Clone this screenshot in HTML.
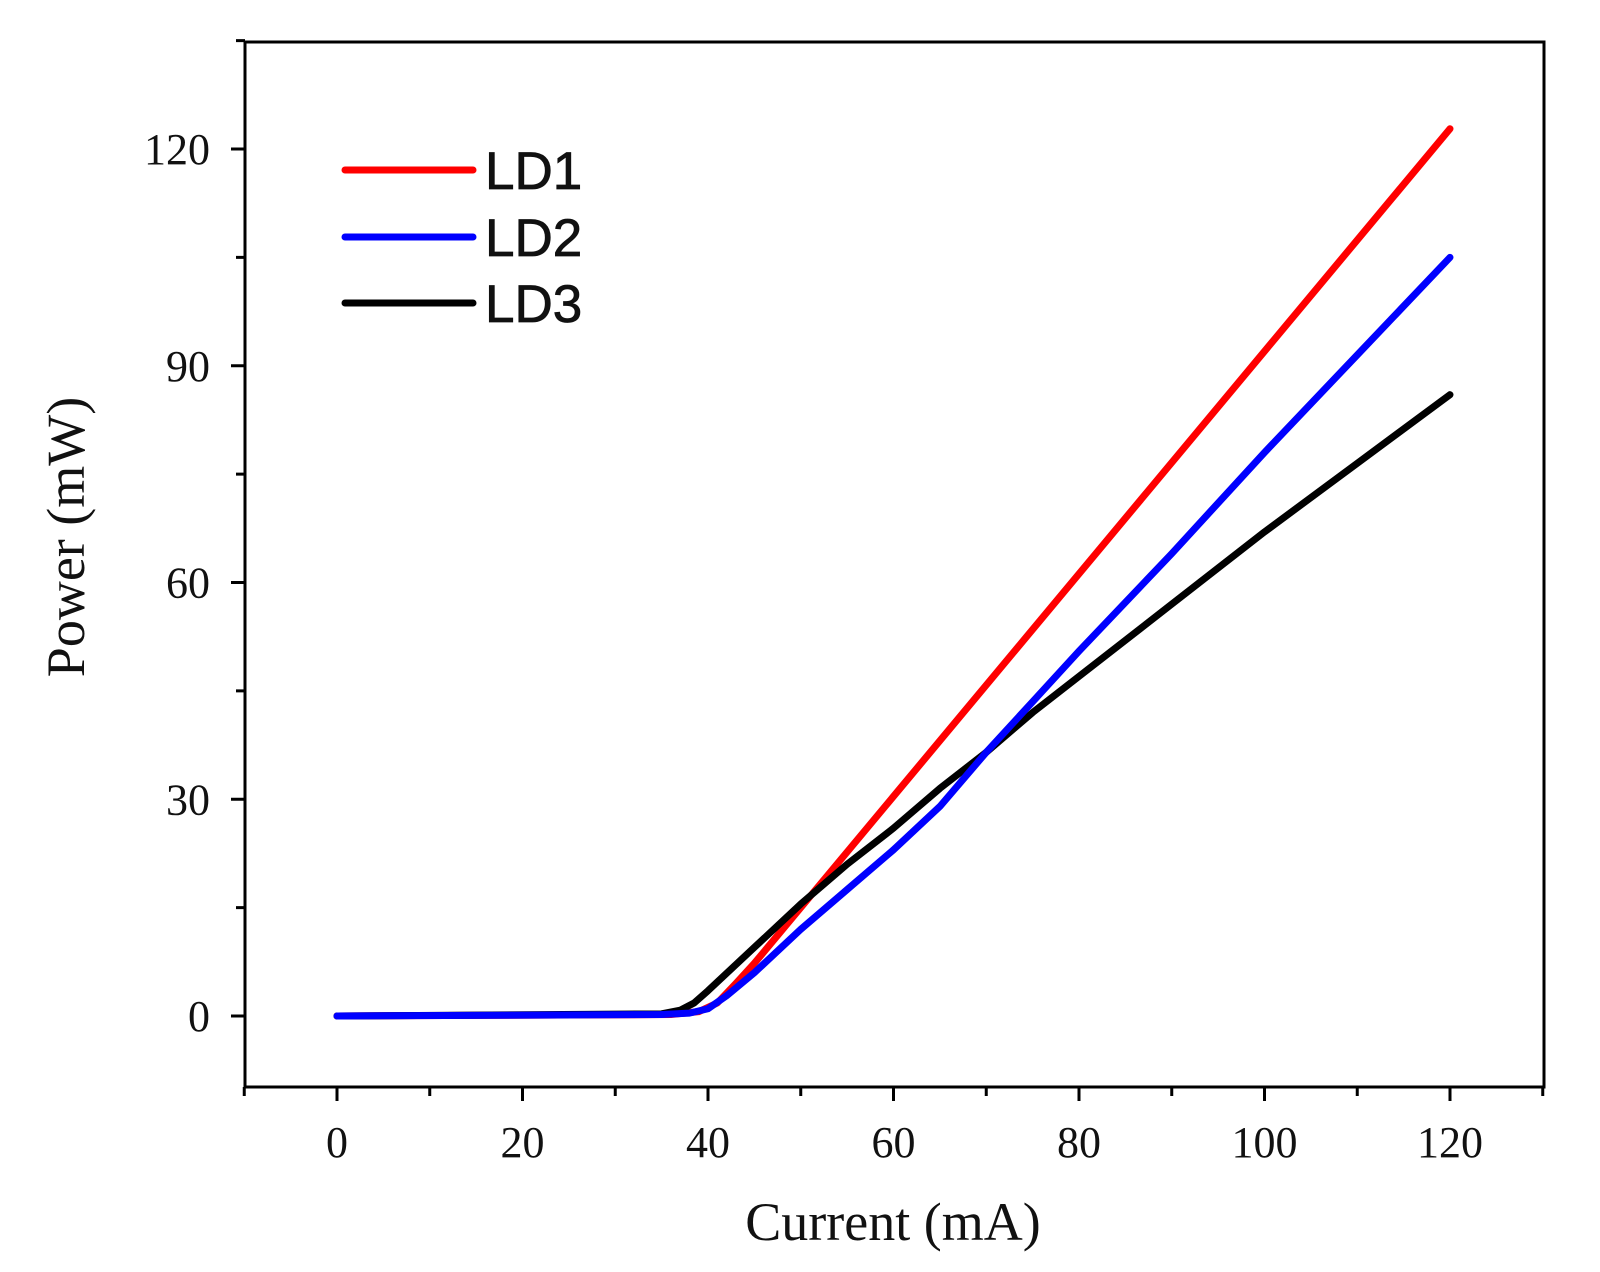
<!DOCTYPE html>
<html><head><meta charset="utf-8"><style>body{margin:0;background:#fff}svg{display:block}</style></head>
<body>
<svg id="s" width="1600" height="1272" xmlns="http://www.w3.org/2000/svg">
<rect width="1600" height="1272" fill="#fff"/>
<g id="ax" stroke="#000" stroke-width="3" fill="none">
<rect x="245" y="42" width="1299" height="1045"/>
</g>
<g id="tk" stroke="#000" stroke-width="3"></g>
<g font-family="Liberation Serif, serif" font-size="44" fill="#111" id="lb"></g>
<g id="cv" fill="none" stroke-width="7" stroke-linecap="round" stroke-linejoin="round"></g>
<g stroke-width="7" stroke-linecap="round">
<line x1="345" y1="170" x2="473" y2="170" stroke="#f00"/>
<line x1="345" y1="237" x2="473" y2="237" stroke="#00f"/>
<line x1="345" y1="303" x2="473" y2="303" stroke="#000"/>
</g>
<g font-family="Liberation Sans, sans-serif" font-size="53" fill="#111" stroke="#111" stroke-width="0.8">
<text x="485" y="189">LD1</text>
<text x="485" y="256">LD2</text>
<text x="485" y="322">LD3</text>
</g>
<text x="893" y="1240" text-anchor="middle" font-family="Liberation Serif, serif" font-size="54" fill="#111">Current (mA)</text>
<text transform="translate(84,537) rotate(-90)" text-anchor="middle" font-family="Liberation Serif, serif" font-size="54" fill="#111">Power (mW)</text>
</svg>
<script>
const X=x=>337+x*9.275, Y=y=>1016-y*7.225, NS="http://www.w3.org/2000/svg";
const tk=document.getElementById('tk'), lb=document.getElementById('lb'), cv=document.getElementById('cv');
function el(p,t,a,txt){const e=document.createElementNS(NS,t);for(const k in a)e.setAttribute(k,a[k]);if(txt!=null)e.textContent=txt;p.appendChild(e);}
for(let x=-10;x<=130;x+=10){const maj=x%20==0&&x>=0&&x<=120;el(tk,'line',{x1:X(x),x2:X(x),y1:1087,y2:maj?1101:1096});
 if(maj)el(lb,'text',{x:X(x),y:1157,'text-anchor':'middle'},x);}
for(let y=-15;y<=135;y+=15){if(y<-10)continue;const maj=y%30==0;el(tk,'line',{y1:Y(y),y2:Y(y),x1:245,x2:maj?231:236});
 if(maj)el(lb,'text',{x:210,y:Y(y)+15,'text-anchor':'end'},y);}
const d={
'#f00':[[0,0],[36,0.2],[39,0.6],[41,1.8],[43,4.5],[45,7.3],[120,122.8]],
'#00f':[[0,0],[35,0.2],[38,0.4],[40,1],[42,2.8],[45,6],[50,12],[55,17.5],[60,23],[65,29],[70,36.5],[75,43.5],[80,50.5],[90,64],[100,78],[110,91.5],[120,105]],
'#000':[[0,0],[35,0.3],[37,0.8],[38.5,1.8],[40,3.5],[45,9.5],[50,15.5],[55,21],[60,26],[65,31.5],[70,36.5],[75,42],[80,47],[90,57],[100,67],[110,76.5],[120,86]]};
for(const c of ['#f00','#000','#00f'])el(cv,'polyline',{stroke:c,points:d[c].map(p=>X(p[0])+','+Y(p[1])).join(' ')});
</script>
</body></html>
